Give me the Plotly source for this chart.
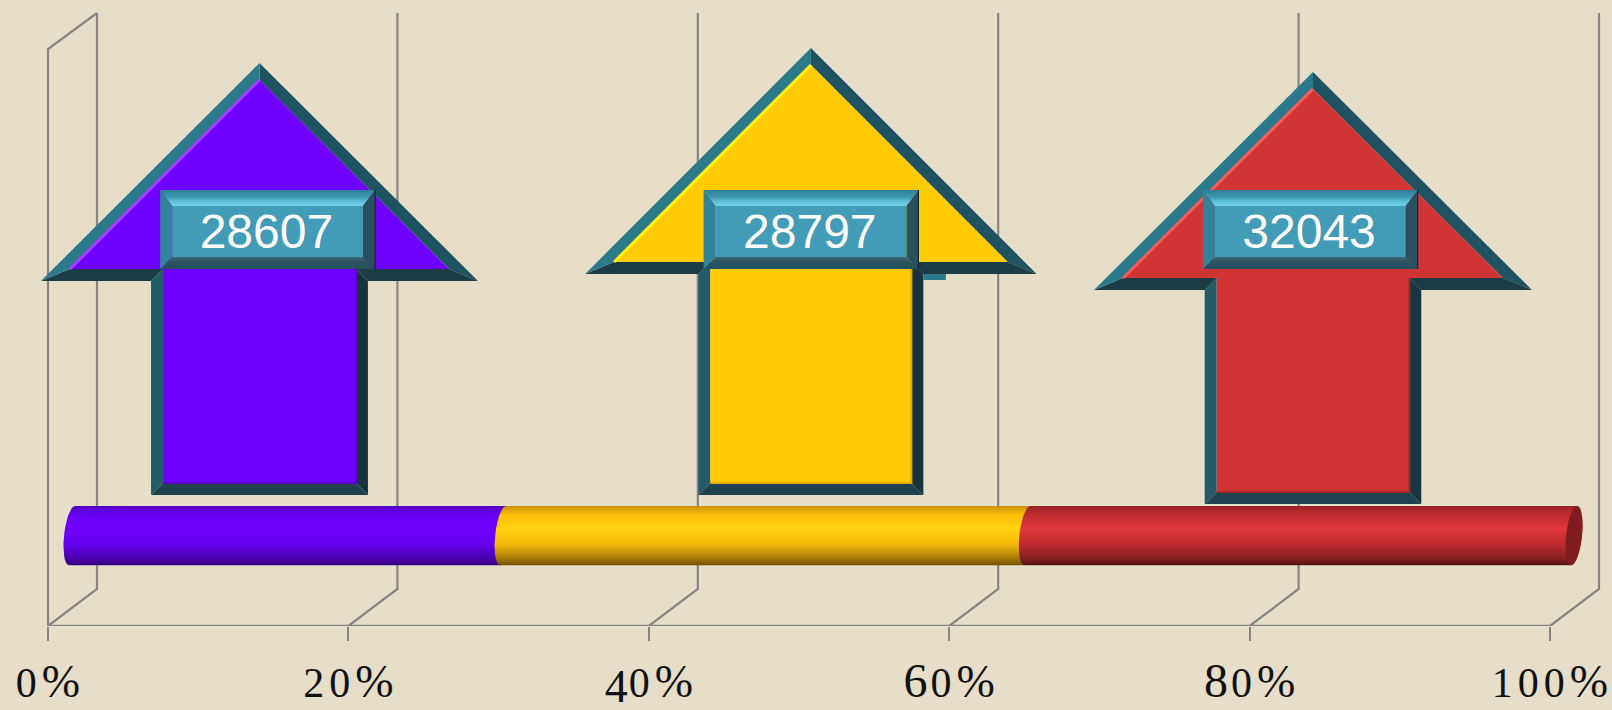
import math
import plotly.graph_objects as go

# ---------- data ----------
categories = ["A", "B", "C"]
arrow_values = [28607, 28797, 32043]
bar_shares = [28.7, 34.9, 36.4]
tick_values = [0, 20, 40, 60, 80, 100]
tick_labels = ["0%", "20%", "40%", "60%", "80%", "100%"]

# ---------- arrow / label placement in axis units (x: percent, y: height) ----------
arrow_center = [14.08, 50.79, 84.22]
arrow_head_half = [14.55, 15.03, 14.58]
arrow_shaft_half = [7.22, 7.49, 7.21]
arrow_tip = [563, 578, 554]
arrow_wing = [345, 352, 336]
arrow_base = [131, 131, 122]
label_center = [14.62, 50.80, 84.04]
label_half = 7.15
label_bottom, label_top = 357, 436

# ---------- style ----------
BG = "#E6DEC9"
GRID = "#858585"
W, H = 1612, 710
PX0, PXPCT = 48.0, 15.02          # pixel of 0 %, pixels per percent
BASE_PX = 626
fill_colors = ["#6D00FF", "#FFCB05", "#D13434"]
hi_colors = ["#A83CFF", "#FFF200", "#F45C5C"]
lo_colors = ["#5A00D0", "#E5A800", "#A92A2C"]
edge_colors = ["#1F5361", "#1C3C46", "#17353E", "#1F4450", "#235A68", "#1C3C46", "#2B7A8C"]
cyl_scales = [
    [[0, "#36007F"], [0.12, "#4A00AE"], [0.35, "#6400EC"], [0.62, "#7000FF"], [0.85, "#6800F4"], [1, "#5400C4"]],
    [[0, "#6E5000"], [0.12, "#A67A04"], [0.35, "#F5B70B"], [0.62, "#FFD30E"], [0.85, "#FDBE09"], [1, "#C89008"]],
    [[0, "#561216"], [0.12, "#84201F"], [0.35, "#BE2B2E"], [0.62, "#DE373A"], [0.85, "#C22D2F"], [1, "#962428"]],
]
CYL_BOTTOM, CYL_TOP = 60.7, 120.0
CYL_START = 1.6
DEPTH_X, DEPTH_Y = 49 / PXPCT, 37
WALL_TOP = 613
FRONT_TOP = 577

fig = go.Figure()


def poly(xs, ys, color=None, grad=None):
    kw = dict(fillcolor=color) if grad is None else dict(fillgradient=dict(type="vertical", colorscale=grad))
    fig.add_trace(go.Scatter(x=list(xs) + [xs[0]], y=list(ys) + [ys[0]], mode="lines", fill="toself",
                             line=dict(width=0, color="rgba(0,0,0,0)"), hoverinfo="skip", showlegend=False, **kw))


def line(xs, ys, color=GRID, width=2.2):
    fig.add_trace(go.Scatter(x=xs, y=ys, mode="lines", line=dict(color=color, width=width),
                             hoverinfo="skip", showlegend=False))


# ---------- 3D wall lines ----------
for t in tick_values:
    line([t, t + DEPTH_X, t + DEPTH_X], [0, DEPTH_Y, WALL_TOP])
line([0, 0, DEPTH_X], [0, FRONT_TOP, WALL_TOP])
line([tick_values[0], tick_values[-1]], [0, 0], width=2.4)


# ---------- cylinder ----------
def arc(cx, side, n=24):
    rx, skew = 8 / PXPCT, 3 / PXPCT
    cy, ry = (CYL_TOP + CYL_BOTTOM) / 2, (CYL_TOP - CYL_BOTTOM) / 2
    pts = []
    for i in range(n + 1):
        a = math.pi * i / n - math.pi / 2          # from bottom to top
        pts.append((cx + side * rx * math.cos(a) + skew * math.sin(a), cy + ry * math.sin(a)))
    return pts


start = CYL_START
edges = []
for share in bar_shares:
    edges.append((start, start + share))
    start += share
for i, (a, b) in enumerate(edges):
    left = arc(a, -1)
    right = arc(b, 1)
    pts = left + right[::-1]
    poly([p[0] for p in pts], [p[1] for p in pts], grad=cyl_scales[i])
cap = arc(edges[-1][1], -1) + arc(edges[-1][1], 1)[::-1]
poly([p[0] for p in cap], [p[1] for p in cap], color="#7E1C1F")


# ---------- arrows ----------
def inset(pts, d):
    """Miter-offset a clockwise-on-screen polygon inward by d pixels (pts in axis units)."""
    P = [(x * PXPCT, y) for x, y in pts]
    out = []
    n = len(P)
    for i in range(n):
        x0, y0 = P[i - 1]
        x1, y1 = P[i]
        x2, y2 = P[(i + 1) % n]
        a = (x1 - x0, y1 - y0)
        b = (x2 - x1, y2 - y1)
        la, lb = math.hypot(*a), math.hypot(*b)
        na = (a[1] / la, -a[0] / la)
        nb = (b[1] / lb, -b[0] / lb)
        k = 1 + na[0] * nb[0] + na[1] * nb[1]
        out.append(((x1 + d * (na[0] + nb[0]) / k) / PXPCT, y1 + d * (na[1] + nb[1]) / k))
    return out


for i, cat in enumerate(categories):
    c, hh, sh = arrow_center[i], arrow_head_half[i], arrow_shaft_half[i]
    tip, wing, base = arrow_tip[i], arrow_wing[i], arrow_base[i]
    outer = [(c, tip), (c + hh, wing), (c + sh, wing), (c + sh, base),
             (c - sh, base), (c - sh, wing), (c - hh, wing)]
    inner = inset(outer, 12)
    for k in range(7):
        q = [outer[k], outer[(k + 1) % 7], inner[(k + 1) % 7], inner[k]]
        poly([p[0] for p in q], [p[1] for p in q], color=edge_colors[k])
    poly([p[0] for p in inner], [p[1] for p in inner], color=fill_colors[i])
    line([inner[6][0], inner[0][0]], [inner[6][1], inner[0][1]], color=hi_colors[i], width=3)
    line([inner[2][0], inner[3][0], inner[4][0]], [inner[2][1], inner[3][1], inner[4][1]],
         color=lo_colors[i], width=2)

# small stray tab under the middle arrow's right wing
poly([arrow_center[1] + arrow_shaft_half[1], arrow_center[1] + arrow_shaft_half[1] + 1.5,
      arrow_center[1] + arrow_shaft_half[1] + 1.5, arrow_center[1] + arrow_shaft_half[1]],
     [arrow_wing[1], arrow_wing[1], arrow_wing[1] - 6, arrow_wing[1] - 6], color="#2B7A8C")


# ---------- value labels ----------
for i, v in enumerate(arrow_values):
    l, r = label_center[i] - label_half, label_center[i] + label_half
    il, ir = l + 12 / PXPCT, r - 12 / PXPCT
    b, t = label_bottom, label_top
    ib, it = b + 12, t - 16
    poly([l, r, ir, il], [t, t, it, it],
         grad=[[0, "#6FD2EA"], [0.3, "#5FBFD8"], [0.55, "#3E98B2"], [1, "#2F7F96"]])
    poly([r, r, ir, ir], [t, b, ib, it], color="#28505E")
    poly([l, r, ir, il], [b, b, ib, ib], grad=[[0, "#25505E"], [0.6, "#2C5360"], [1, "#3F6A78"]])
    poly([l, l, il, il], [t, b, ib, it], color="#31829A")
    poly([il, ir, ir, il], [it, it, ib, ib], color="#429BB7")
    line([r, r], [t, b], color="#10252C", width=1.2)
    fig.add_trace(go.Scatter(x=[label_center[i] - 0.08], y=[(b + t) / 2 - 6], mode="text", text=[str(v)],
                             textposition="middle center",
                             textfont=dict(family="Liberation Sans", size=48, color="#FFFFFF"),
                             hoverinfo="skip", showlegend=False))


# ---------- old-style-figure look for the tick labels ----------
def oldstyle(label):
    out = []
    for ch in label:
        if ch == "%":
            out.append(f'<span style="font-size:46px">{ch}</span>')
        elif ch in "68":
            out.append(f'<span style="font-size:48px;letter-spacing:3px">{ch}</span>')
        elif ch == "4":
            out.append(f'<span style="font-size:46px;letter-spacing:1px;baseline-shift:-5px">{ch}</span>')
        else:
            out.append(f'<span style="font-size:42px;letter-spacing:5px">{ch}</span>')
    return "".join(out)


fig.update_layout(
    width=W, height=H, autosize=False,
    margin=dict(l=0, r=0, t=0, b=H - BASE_PX, pad=0),
    paper_bgcolor=BG, plot_bgcolor=BG, showlegend=False,
    xaxis=dict(range=[-PX0 / PXPCT, (W - PX0) / PXPCT], showgrid=False, zeroline=False,
               showline=False, automargin=False,
               tickmode="array", tickvals=tick_values, ticktext=[oldstyle(s) for s in tick_labels],
               ticks="outside", ticklen=14, tickwidth=2.2, tickcolor=GRID,
               tickfont=dict(family="Liberation Serif", size=46, color="#111111"), ticklabelstandoff=1),
    yaxis=dict(range=[0, BASE_PX], visible=False, automargin=False),
)

fig.write_html("out.html", config=dict(displayModeBar=False),
               post_script="document.body.style.margin='0';document.body.style.overflow='hidden';")
